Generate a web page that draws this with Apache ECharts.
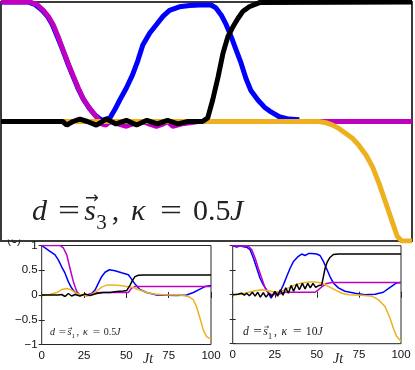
<!DOCTYPE html>
<html><head><meta charset="utf-8">
<script src="https://cdn.jsdelivr.net/npm/echarts@6/dist/echarts.min.js"></script>
<style>html,body{margin:0;padding:0;background:#fff}#c{width:415px;height:370px}</style>
</head><body><div id="c"></div>
<script>
// ---- Top panel (d = s3, kappa = 0.5J) ----
const topMagT = [0, 7, 8.7, 10.3, 11.5, 12.7, 13.9, 15.1, 16.3, 17.6, 18.8, 20, 21.6, 23.2, 24.4, 25.5, 26.5, 28.5, 30.5, 32, 33, 34.5, 36, 37.8, 39.5, 40.5, 41.8, 44, 46, 48, 100];
const topMagV = [1, 1, 0.98, 0.93, 0.88, 0.81, 0.71, 0.60, 0.49, 0.38, 0.28, 0.19, 0.11, 0.04, -0.02, -0.03, 0, -0.02, -0.04, -0.02, -0.01, 0, -0.02, -0.04, -0.02, 0, -0.04, -0.02, -0.01, 0, 0];
const topBluT = [0, 6.5, 8.2, 10, 11.3, 12.5, 13.7, 15, 16.2, 17.5, 18.7, 20, 21.5, 23, 24.5, 26.5, 27.7, 28.9, 30.5, 32, 33.3, 34.5, 36.2, 37.8, 39.4, 41, 43.4, 45.9, 48.3, 51.1, 52.3, 53.6, 54.8, 56, 57.2, 58.4, 59.6, 60.8, 62.5, 64.1, 65.7, 67.7, 70, 72.6];
const topBluV = [1, 1, 0.98, 0.93, 0.88, 0.81, 0.71, 0.6, 0.49, 0.38, 0.28, 0.19, 0.11, 0.05, 0.01, 0.03, 0.1, 0.18, 0.28, 0.39, 0.51, 0.64, 0.74, 0.81, 0.88, 0.93, 0.96, 0.97, 0.975, 0.975, 0.95, 0.89, 0.81, 0.71, 0.6, 0.49, 0.36, 0.26, 0.18, 0.12, 0.08, 0.04, 0.02, 0.015];
const topBlkT = [0, 15, 16, 17.5, 19.2, 21, 23.2, 25.6, 28, 30.5, 33, 35.5, 38, 40.5, 43, 45.5, 49, 50.3, 51.5, 52.8, 54, 55.2, 56.4, 57.6, 58.8, 60.4, 62.9, 100];
const topBlkV = [0, 0, -0.03, 0, 0.02, 0, -0.03, 0.02, -0.02, 0.01, -0.03, 0.01, -0.02, 0.01, -0.02, 0, 0, 0.03, 0.18, 0.37, 0.57, 0.71, 0.79, 0.86, 0.92, 0.96, 0.995, 1];
const topOrgT = [0, 77.4, 79, 80.7, 82.3, 83.9, 85.5, 87.1, 88.8, 90.4, 92, 93.6, 95.2, 96.4, 97.5, 100];
const topOrgV = [0, 0, -0.01, -0.03, -0.06, -0.1, -0.14, -0.2, -0.28, -0.38, -0.52, -0.68, -0.84, -0.96, -1, -1];

// ---- Bottom-left panel (d = s1, kappa = 0.5J) ----
const aMagT = [0, 10.8, 12.8, 14.8, 16.7, 18.7, 20.7, 22.6, 26.6, 30.5, 34.4, 44.3, 51.2, 53.1, 55.1, 100];
const aMagV = [1, 1, 0.95, 0.81, 0.54, 0.27, 0.07, 0, 0, 0.04, 0.05, 0.05, 0.05, 0.14, 0.17, 0.17];
const aBluT = [0, 2, 4.9, 7.9, 9.8, 11.8, 13.8, 15.7, 17.7, 19.7, 22.6, 26.6, 29.5, 31.5, 33.5, 35.4, 37.4, 40, 43.3, 47.2, 51.2, 53.1, 55.1, 58, 62, 67.9, 79.7, 85.6, 89.6, 93.5, 96.5, 100];
const aBluV = [1, 0.95, 0.88, 0.81, 0.71, 0.57, 0.44, 0.27, 0.14, 0.05, 0, -0.01, 0.03, 0.1, 0.24, 0.37, 0.46, 0.51, 0.49, 0.45, 0.41, 0.32, 0.22, 0.11, 0.05, 0, -0.01, 0, 0.05, 0.12, 0.17, 0.19];
const aBlkT = [0, 9.8, 11.8, 13.8, 15.7, 17.7, 19.7, 22.6, 25.6, 28.5, 32.5, 36.4, 40.4, 44.3, 48.2, 50.2, 52.2, 53.7, 55.1, 57.1, 60, 100];
const aBlkV = [0, 0, 0.01, -0.03, 0.03, -0.02, 0.01, -0.02, 0.02, -0.01, 0.03, 0.05, 0.05, 0.07, 0.08, 0.09, 0.2, 0.3, 0.37, 0.4, 0.405, 0.405];
const aOrgT = [0, 4.9, 8.9, 11.8, 14.8, 17.7, 20.7, 23.6, 26.6, 29.5, 32.5, 35.4, 38.4, 42.3, 46.3, 50.2, 54.1, 58, 62, 65.9, 73.8, 81.7, 86.6, 89.6, 91.5, 93.5, 95.5, 97.4, 99.4, 100];
const aOrgV = [0, 0.01, 0.05, 0.11, 0.13, 0.1, 0.03, 0, -0.02, 0.01, 0.08, 0.16, 0.2, 0.2, 0.19, 0.17, 0.15, 0.1, 0.05, 0.02, 0, 0, -0.03, -0.1, -0.24, -0.47, -0.71, -0.84, -0.88, -0.87];

// ---- Bottom-right panel (d = s1, kappa = 10J) ----
const bMagT = [0, 9.3, 11.3, 13.3, 15.2, 17.2, 19.2, 21.2, 23.2, 27.1, 31.1, 39, 48.9, 50.9, 52.9, 55.8, 58.8, 100];
const bMagV = [1, 0.99, 0.92, 0.75, 0.54, 0.34, 0.14, 0.03, 0, 0.01, 0.05, 0.05, 0.05, 0.1, 0.16, 0.23, 0.25, 0.25];
const bBluT = [0, 2.4, 4.4, 6.3, 8.3, 10.3, 12.3, 14.3, 16.2, 18.2, 20.2, 21.6, 22.8, 24.2, 26.1, 28.1, 30.1, 32.1, 34.1, 36, 38.6, 41, 43, 45, 46.9, 49.9, 51.9, 53.9, 55.8, 57.8, 59.8, 62.8, 66.7, 72.7, 78.6, 84.6, 89.5, 93.5, 97.4, 100];
const bBluV = [1, 0.97, 1, 0.98, 0.97, 0.92, 0.75, 0.54, 0.34, 0.2, 0.1, 0.01, -0.07, 0.01, 0.03, 0.05, 0.2, 0.37, 0.54, 0.67, 0.77, 0.83, 0.8, 0.84, 0.84, 0.83, 0.8, 0.68, 0.53, 0.37, 0.24, 0.14, 0.07, 0.03, 0, 0.01, 0.05, 0.15, 0.24, 0.25];
const bBlkT = [0, 3, 5.3, 6.9, 8.3, 9.9, 11.7, 13.3, 14.9, 16.4, 18.2, 19.8, 21.6, 23.2, 25.1, 26.7, 28.3, 29.9, 31.5, 33.1, 34.7, 36.2, 38, 39.6, 41.4, 43, 44.6, 46.1, 47.7, 49.3, 51.3, 52.9, 53.9, 54.9, 56.2, 57.8, 59.8, 62.8, 100];
const bBlkV = [0, 0.01, 0.03, -0.01, 0.03, -0.02, 0.05, -0.03, 0.05, -0.05, 0.04, -0.05, 0.03, -0.04, 0.07, -0.03, 0.1, -0.01, 0.14, 0.03, 0.19, 0.07, 0.22, 0.1, 0.23, 0.12, 0.23, 0.14, 0.23, 0.15, 0.19, 0.2, 0.37, 0.54, 0.67, 0.76, 0.82, 0.83, 0.83];
const bOrgT = [0, 5.3, 9.3, 13.3, 17.2, 21.2, 25.1, 29.1, 33.1, 37, 41, 45, 48.9, 52.9, 56.8, 60.8, 64.8, 68.7, 76.6, 82.6, 86.5, 90.5, 93.5, 95.4, 97.4, 100];
const bOrgV = [0, 0.01, 0.05, 0.08, 0.1, 0.08, 0.05, 0.07, 0.14, 0.2, 0.24, 0.26, 0.26, 0.24, 0.17, 0.1, 0.03, 0, -0.01, -0.03, -0.1, -0.24, -0.48, -0.68, -0.85, -0.95];

const xTicks = [0, 25, 50, 75, 100];
const yTicks = [-1, -0.5, 0, 0.5, 1];

const COL = {mag: '#C000C0', blu: '#0000FF', blk: '#000000', org: '#EDB120'};
const zip = (t, v) => t.map((x, i) => [x, v[i]]);
const fmt = v => String(v).replace('-', '\u2212');

function ser(idx, t, v, color, w, z) {
  return {type: 'line', xAxisIndex: idx, yAxisIndex: idx, data: zip(t, v), showSymbol: false,
    lineStyle: {color: color, width: w}, itemStyle: {color: color}, clip: true, z: z, animation: false};
}

const SERIF = '"Liberation Serif","DejaVu Serif",serif';
const TF = '"Liberation Sans",Arial,sans-serif';
const INK = '#222';

// annotation "d = s(vec)_k, kappa = ...J" laid out piece by piece (offsets in em)
function annotation(x0, base, fs, sub, kap) {
  const kapW = kap === '0.5' ? 1.233 : 1.0;
  const pieces = [
    {t: 'd', it: true, o: 0},
    {t: '=', it: false, o: 0.867, sx: 1.3},
    {t: 's', it: true, o: 1.74},
    {t: sub, it: false, o: 2.14, sub: true},
    {t: ',', it: false, o: 2.66},
    {t: '\u03BA', it: true, o: 3.3},
    {t: '=', it: false, o: 4.267, sx: 1.3},
    {t: kap, it: false, o: 5.367},
    {t: 'J', it: true, o: 5.367 + kapW}
  ];
  const els = pieces.map(p => {
    const f = p.sub ? fs * 0.7 : fs;
    const b = p.sub ? base + fs * 0.28 : base;
    return {type: 'text', z: 10, x: x0 + p.o * fs, y: b - 0.32 * f, scaleX: p.sx || 1,
      style: {text: p.t, font: (p.it ? 'italic ' : '') + f + 'px ' + SERIF, fill: INK, align: 'left', verticalAlign: 'middle'}};
  });
  els.push({type: 'text', z: 10, x: x0 + 2.0 * fs, y: base - 0.78 * fs,
    style: {text: '\u2192', font: (fs * 0.55) + 'px "DejaVu Sans",sans-serif', fill: INK, align: 'center', verticalAlign: 'middle'}});
  return els;
}

const grids = [
  {left: 1, top: 2, width: 411, height: 239, show: true, borderColor: '#3a3a3a', borderWidth: 2, backgroundColor: '#fff'},
  {left: 41.7, top: 245.5, width: 169.3, height: 99, show: true, borderColor: '#262626', borderWidth: 1},
  {left: 232.7, top: 245.7, width: 168.3, height: 98, show: true, borderColor: '#262626', borderWidth: 1}
];
function xAx(g, showLabel, pos) {
  return {type: 'value', gridIndex: g, min: xTicks[0], max: xTicks[xTicks.length - 1], interval: 25, position: pos,
    show: g !== 0,
    axisLine: {show: false}, splitLine: {show: false},
    axisTick: {show: g !== 0, inside: true, length: 3, lineStyle: {color: '#262626'}},
    axisLabel: {show: showLabel, fontFamily: TF, fontSize: 11.5, color: '#111', margin: 5}};
}
function yAx(g, showLabel, pos) {
  return {type: 'value', gridIndex: g, min: yTicks[0], max: yTicks[yTicks.length - 1], interval: 0.5, position: pos,
    show: g !== 0,
    axisLine: {show: false}, splitLine: {show: false},
    axisTick: {show: g !== 0, inside: true, length: 3, lineStyle: {color: '#262626'}},
    axisLabel: {show: showLabel, fontFamily: TF, fontSize: 11.5, color: '#111', margin: 4, formatter: fmt}};
}

const chart = echarts.init(document.getElementById('c'), null, {renderer: 'canvas'});
chart.setOption({
  animation: false,
  grid: grids,
  xAxis: [xAx(0, false, 'bottom'), xAx(1, true, 'bottom'), xAx(2, true, 'bottom'), xAx(1, false, 'top'), xAx(2, false, 'top')],
  yAxis: [yAx(0, false, 'left'), yAx(1, true, 'left'), yAx(2, false, 'left'), yAx(1, false, 'right'), yAx(2, false, 'right')],
  series: [
    ser(0, topBluT, topBluV, COL.blu, 5, 2),
    ser(0, topMagT, topMagV, COL.mag, 5, 3),
    ser(0, topOrgT, topOrgV, COL.org, 5, 4),
    ser(0, topBlkT, topBlkV, COL.blk, 5, 5),
    ser(1, aBluT, aBluV, COL.blu, 1.5, 2),
    ser(1, aMagT, aMagV, COL.mag, 1.5, 3),
    ser(1, aOrgT, aOrgV, COL.org, 1.5, 4),
    ser(1, aBlkT, aBlkV, COL.blk, 1.5, 5),
    ser(2, bBluT, bBluV, COL.blu, 1.5, 2),
    ser(2, bMagT, bMagV, COL.mag, 1.5, 3),
    ser(2, bOrgT, bOrgV, COL.org, 1.5, 4),
    ser(2, bBlkT, bBlkV, COL.blk, 1.5, 5)
  ],
  graphic: [
    {type: 'text', left: 7, top: 234, z: 0, style: {text: '(c)', font: '12px ' + TF, fill: INK}},
    {type: 'rect', shape: {x: 2, y: 3, width: 409, height: 236.5}, z: 1, style: {fill: '#fff'}},
    ...annotation(32, 221.7, 30, '3', '0.5'),
    ...annotation(50, 336, 10, '1', '0.5'),
    ...annotation(243, 336, 11.7, '1', '10'),
    {type: 'text', left: 143, top: 352, z: 10, style: {text: 'Jt', font: 'italic 14px ' + SERIF, fill: INK}},
    {type: 'text', left: 333, top: 352, z: 10, style: {text: 'Jt', font: 'italic 14px ' + SERIF, fill: INK}}
  ]
});
</script></body></html>
